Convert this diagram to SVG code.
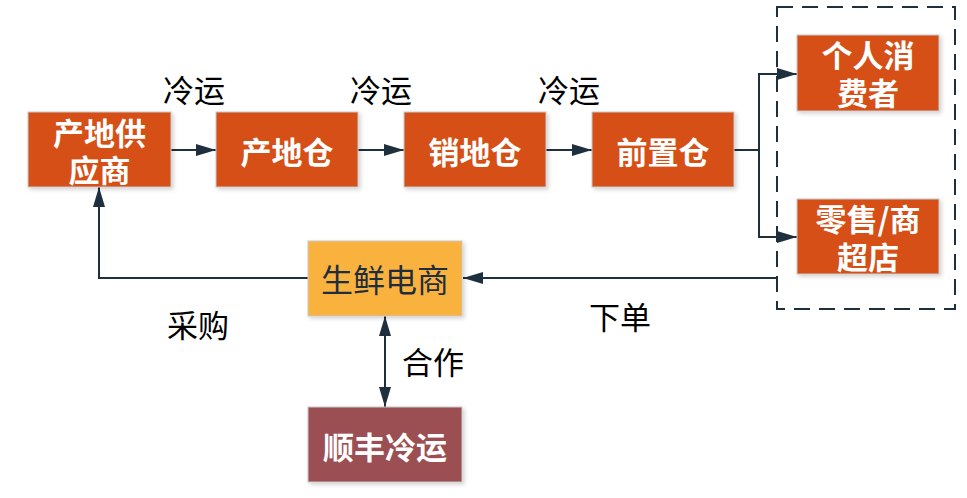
<svg xmlns="http://www.w3.org/2000/svg" width="967" height="498" viewBox="0 0 967 498">
<defs>
<filter id="sh" x="-10%" y="-10%" width="130%" height="130%">
<feDropShadow dx="2" dy="2" stdDeviation="2" flood-color="#000" flood-opacity="0.18"/>
</filter>
<marker id="ahb" viewBox="0 0 20 12" refX="20" refY="6" markerWidth="20" markerHeight="12" markerUnits="userSpaceOnUse" orient="auto-start-reverse">
<path d="M0,0 L20,6 L0,12 Z" fill="#1e2f3e"/>
</marker>
</defs>
<style>
.box{stroke:#c9c9c9;stroke-width:1;filter:url(#sh)}
.or{fill:#d55018}
.yl{fill:#f9b23c}
.br{fill:#9b4f52}
.bt{font-family:"Noto Sans CJK SC","Noto Sans",sans-serif;font-size:31px;font-weight:bold;fill:#fff;text-anchor:middle;dominant-baseline:central}
.dt{fill:#1f2d3d;font-weight:normal;font-size:32px}
.lb{font-family:"Noto Sans CJK SC","Noto Sans",sans-serif;font-size:31px;fill:#000;text-anchor:middle;dominant-baseline:central}
.ln{fill:none;stroke:#1e2f3e;stroke-width:2}
</style>
<rect x="777" y="7" width="178" height="302" fill="none" stroke="#1e2f3e" stroke-width="2" stroke-dasharray="16,9"/>
<g id="connectors">
<path class="ln" d="M171,150 H216" marker-end="url(#ahb)"/>
<path class="ln" d="M358,150 H404" marker-end="url(#ahb)"/>
<path class="ln" d="M546,150 H592" marker-end="url(#ahb)"/>
<path class="ln" d="M734,150 H759 V74 H797" marker-end="url(#ahb)"/>
<path class="ln" d="M759,150 V237 H797" marker-end="url(#ahb)"/>
<path class="ln" d="M777,278 H463" marker-end="url(#ahb)"/>
<path class="ln" d="M308,278 H99 V187" marker-end="url(#ahb)"/>
<path class="ln" d="M385,316 V407" marker-start="url(#ahb)" marker-end="url(#ahb)"/>
</g>
<g id="n1"><rect class="box or" x="28" y="112" width="143" height="75"/><text class="bt" x="99.5" y="131">产地供</text><text class="bt" x="99.5" y="168">应商</text></g>
<g id="n2"><rect class="box or" x="216" y="112" width="142" height="75"/><text class="bt" x="287" y="150">产地仓</text></g>
<g id="n3"><rect class="box or" x="404" y="112" width="142" height="75"/><text class="bt" x="475" y="150">销地仓</text></g>
<g id="n4"><rect class="box or" x="592" y="112" width="142" height="75"/><text class="bt" x="663" y="150">前置仓</text></g>
<g id="n5"><rect class="box or" x="797" y="35" width="142" height="76"/><text class="bt" x="868" y="53">个人消</text><text class="bt" x="868" y="91">费者</text></g>
<g id="n6"><rect class="box or" x="797" y="199" width="142" height="75"/><text class="bt" x="868" y="217">零售/商</text><text class="bt" x="868" y="255">超店</text></g>
<g id="n7"><rect class="box yl" x="308" y="241" width="154" height="75"/><text class="bt dt" x="385" y="278">生鲜电商</text></g>
<g id="n8"><rect class="box br" x="308" y="407" width="154" height="75"/><text class="bt" x="385" y="445">顺丰冷运</text></g>
<g id="labels">
<text class="lb" x="194" y="88">冷运</text>
<text class="lb" x="381" y="88">冷运</text>
<text class="lb" x="569" y="88">冷运</text>
<text class="lb" x="198" y="323">采购</text>
<text class="lb" x="620" y="315">下单</text>
<text class="lb" x="433" y="360">合作</text>
</g>
</svg>
